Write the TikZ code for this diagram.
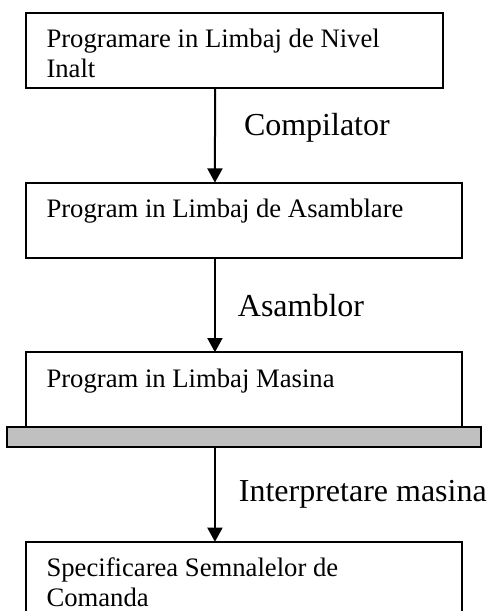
\documentclass[tikz,border=0pt]{standalone}
\usepackage{fontspec}
\setmainfont{Liberation Serif}
\usetikzlibrary{arrows.meta,positioning}
\definecolor{barfill}{HTML}{C0C0C0}

\begin{document}
\begin{tikzpicture}[
  node distance=35.4pt,
  box/.style={draw,line width=0.75pt,minimum height=28.2pt,inner sep=0pt,outer sep=0pt},
  wide/.style={box,minimum width=163.5pt},
  txt/.style={anchor=north west,inner sep=0pt,align=left,font=\fontsize{10}{11.25}\selectfont},
  lbl/.style={anchor=base west,inner sep=0pt,font=\fontsize{12}{14}\selectfont},
  arr/.style={-{Triangle[length=5.3pt,width=5.6pt]},line width=0.75pt}
]
\clip (0,0) rectangle (182.625pt,-229.125pt);
\node[box,minimum width=156.4pt,anchor=north west] (hll) at (9.75pt,-4.875pt) {};
\node[wide,below=of hll.south west,anchor=north west] (asm) {};
\node[wide,below=of asm] (mach) {};
\node[box,fill=barfill,minimum width=177.75pt,minimum height=7.5pt,below=0pt of mach] (bar) {};
\node[wide,below=of bar] (cmd) {};

\node[txt] (hlltxt) at ([shift={(7.5pt,-5.95pt)}]hll.north west) {Programare in Limbaj de Nivel\\Inalt};
\node[txt] (asmtxt) at ([shift={(7.5pt,-5.95pt)}]asm.north west) {Program in Limbaj de Asamblare};
\node[txt] (machtxt) at ([shift={(7.5pt,-5.95pt)}]mach.north west) {Program in Limbaj Masina};
\node[txt] (cmdtxt) at ([shift={(7.5pt,-5.95pt)}]cmd.north west) {Specificarea Semnalelor de\\Comanda};

\draw[arr] ([xshift=70.9pt]hll.south west) -- node[lbl,pos=0.5,xshift=10.5pt] (comp) {Compilator} ([xshift=-10.9pt]asm.north);
\draw[arr] ([xshift=-10.9pt]asm.south) -- node[lbl,pos=0.62,xshift=8.25pt] (asmb) {Asamblor} ([xshift=-10.9pt]mach.north);
\draw[arr] ([xshift=-10.9pt]bar.south) -- node[lbl,pos=0.57,xshift=8.6pt] (interp) {Interpretare masina} ([xshift=-10.9pt]cmd.north);
\end{tikzpicture}
\end{document}
